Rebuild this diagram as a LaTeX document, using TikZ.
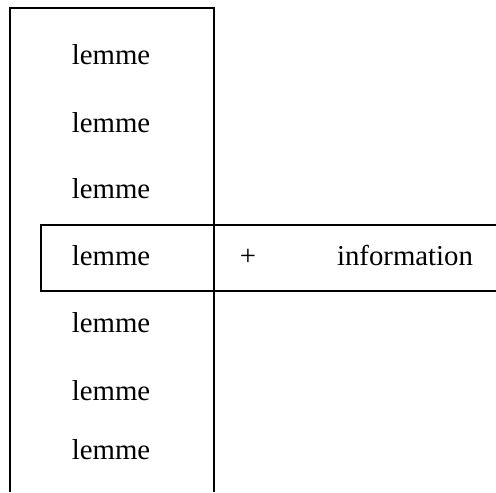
\documentclass[tikz,border=0pt]{standalone}
\usepackage{fontspec}
\setmainfont{Liberation Serif}
\begin{document}
\begin{tikzpicture}[x=0.5pt,y=-0.5pt,line width=0.85pt,
  word/.style={anchor=base,inner sep=0pt,font=\fontsize{14.4}{17}\selectfont}]
\useasboundingbox (0,0) rectangle (496,492);
\draw (10,492) -- (10,8) -- (214,8) -- (214,492);
\draw (496,225) -- (41,225) -- (41,291) -- (496,291);

\node[word] (lemA) at (111,65) {lemme};
\node[word] (lemB) at (111,132) {lemme};
\node[word] (lemC) at (111,198) {lemme};
\node[word] (lemD) at (111,265) {lemme};
\node[word] (lemE) at (111,332) {lemme};
\node[word] (lemF) at (111,400) {lemme};
\node[word] (lemG) at (111,459) {lemme};

\node[word] (plus) at (248,265) {+};
\node[word] (info) at (405,265) {information};
\end{tikzpicture}
\end{document}
